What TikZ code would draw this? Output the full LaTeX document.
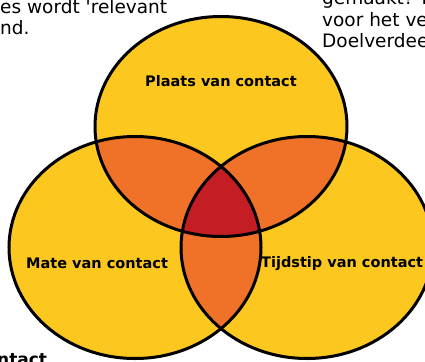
\documentclass[tikz,border=0pt]{standalone}
\usepackage{fontspec}
\setmainfont{DejaVu Sans}
\definecolor{vyellow}{RGB}{252,200,32}
\definecolor{vorange}{RGB}{240,114,40}
\definecolor{vred}{RGB}{196,30,36}
\begin{document}
\begin{tikzpicture}[x=1pt,y=-1pt,
  outline/.style={draw=black,line width=3pt},
  lbl/.style={font=\fontsize{14.5}{17}\selectfont\bfseries,inner sep=0pt,anchor=base},
  bodytext/.style={font=\fontsize{18.5}{21}\selectfont,inner sep=0pt,anchor=base west}]
\useasboundingbox (0,0) rectangle (425,361);
\clip (0,0) rectangle (425,361);
\fill[white] (0,0) rectangle (425,361);
% yellow base
\fill[vyellow] (221,126.5) ellipse [x radius=126pt, y radius=110pt];
\fill[vyellow] (135,247.5) ellipse [x radius=126pt, y radius=111pt];
\fill[vyellow] (307,247.5) ellipse [x radius=126pt, y radius=111pt];
% pairwise intersections
\begin{scope}
  \clip (221,126.5) ellipse [x radius=126pt, y radius=110pt];
  \fill[vorange] (135,247.5) ellipse [x radius=126pt, y radius=111pt];
  \fill[vorange] (307,247.5) ellipse [x radius=126pt, y radius=111pt];
\end{scope}
\begin{scope}
  \clip (135,247.5) ellipse [x radius=126pt, y radius=111pt];
  \fill[vorange] (307,247.5) ellipse [x radius=126pt, y radius=111pt];
\end{scope}
% triple intersection
\begin{scope}
  \clip (221,126.5) ellipse [x radius=126pt, y radius=110pt];
  \clip (135,247.5) ellipse [x radius=126pt, y radius=111pt];
  \fill[vred] (307,247.5) ellipse [x radius=126pt, y radius=111pt];
\end{scope}
% outlines
\draw[outline] (221,126.5) ellipse [x radius=126pt, y radius=110pt];
\draw[outline] (135,247.5) ellipse [x radius=126pt, y radius=111pt];
\draw[outline] (307,247.5) ellipse [x radius=126pt, y radius=111pt];
% labels
\node[lbl] (plaats) at (221,86) {Plaats van contact};
\node[lbl,anchor=base west] (mate) at (26,268) {Mate van contact};
\node[lbl,anchor=base west] (tijdstip) at (261,267) {Tijdstip van contact};
% clipped surrounding text
\node[bodytext] (tl1) at (0,13.5) {es wordt \textquotesingle relevant};
\node[bodytext] (tl2) at (0,34.5) {nd.};
\node[bodytext] (tr1) at (322,5) {gemaakt? I};
\node[bodytext] (tr2) at (322,26.5) {voor het ve};
\node[bodytext] (tr3) at (322,47.5) {Doelverdee};
\node[bodytext,font=\fontsize{17}{20}\selectfont\bfseries] (bl) at (-3,365) {ntact};
\end{tikzpicture}
\end{document}
